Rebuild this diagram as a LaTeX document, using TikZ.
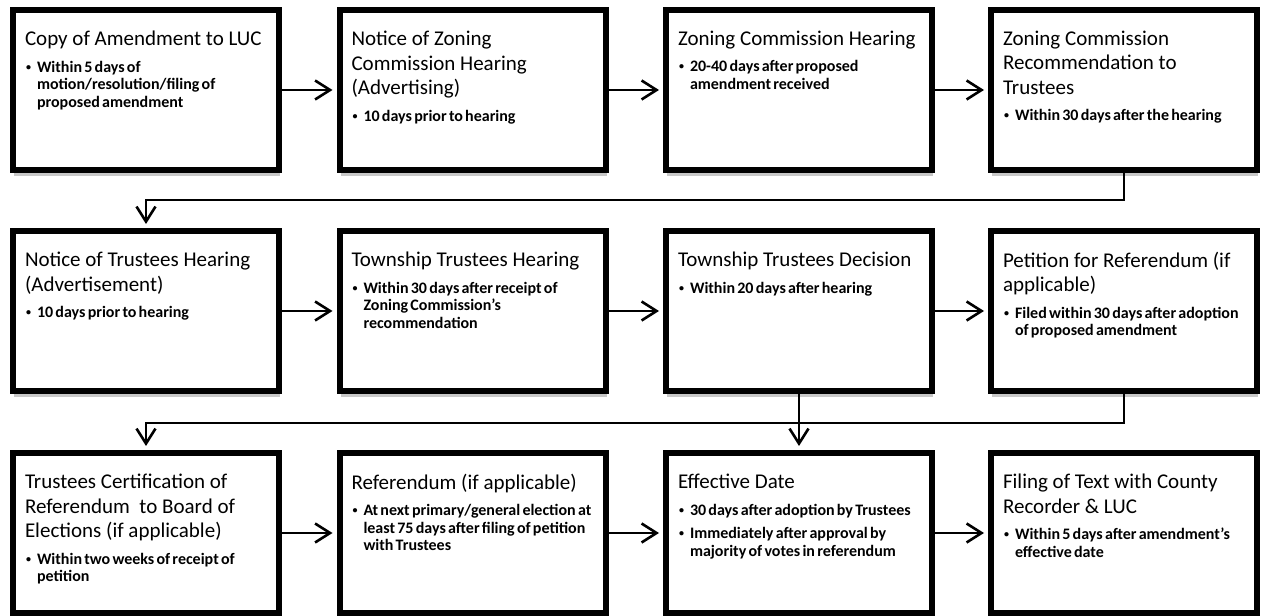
\documentclass[tikz,border=0pt]{standalone}
\usepackage{fontspec}
\setmainfont{Carlito}
\usetikzlibrary{arrows.meta,shadows}
\newcommand{\ttl}[1]{{\fontsize{21}{24.5}\selectfont #1\par}\vspace{9pt}}
\newcommand{\bul}[1]{{\fontsize{16}{17.5}\selectfont\bfseries\spaceskip=0.14em plus 0.05em\leftskip=12pt\noindent\hspace*{-12pt}\makebox[12pt][l]{\hspace{1pt}\raisebox{2pt}{\fontsize{10}{10}\selectfont\textbullet}}#1\par}}
\newcommand{\bgap}{\vspace{6pt}}
\newcommand{\cont}[1]{\parbox[t][118pt][t]{242pt}{\raggedright #1}}
\tikzset{
  x=1pt, y=1pt,
  stepbox/.style={draw=black, line width=6pt, fill=white, inner xsep=12pt, inner ysep=21pt,
    minimum width=266pt, minimum height=160pt,
    drop shadow={shadow xshift=1pt, shadow yshift=-6pt, opacity=0.3, fill=black!70}},
  conn/.style={draw=black, line width=2.6pt, -{Straight Barb[length=15pt,width=19pt]}, shorten >=4pt}
}
\begin{document}
\begin{tikzpicture}
\fill[white] (0,0) rectangle (1262,616);
\useasboundingbox (0,0) rectangle (1262,616);
% row 1
\node[stepbox] (b1) at (146,526) {\cont{\ttl{Copy of Amendment to LUC}\bul{Within 5 days of\\motion/resolution/filing of\\proposed amendment}}};
\node[stepbox] (b2) at (472.5,526) {\cont{\ttl{Notice of Zoning\\Commission Hearing\\(Advertising)}\bul{10 days prior to hearing}}};
\node[stepbox] (b3) at (799,526) {\cont{\ttl{Zoning Commission Hearing}\bul{20-40 days after proposed\\amendment received}}};
\node[stepbox] (b4) at (1124,526) {\cont{\ttl{Zoning Commission\\Recommendation to\\Trustees}\bul{Within 30 days after the hearing}}};
% row 2
\node[stepbox] (b5) at (146,305) {\cont{\ttl{Notice of Trustees Hearing\\(Advertisement)}\bul{10 days prior to hearing}}};
\node[stepbox] (b6) at (472.5,305) {\cont{\ttl{Township Trustees Hearing}\bul{Within 30 days after receipt of\\Zoning Commission’s\\recommendation}}};
\node[stepbox] (b7) at (799,305) {\cont{\ttl{Township Trustees Decision}\bul{Within 20 days after hearing}}};
\node[stepbox] (b8) at (1124,305) {\cont{\ttl{Petition for Referendum (if\\applicable)}\bul{Filed within 30 days after adoption\\of proposed amendment}}};
% row 3
\node[stepbox] (b9) at (146,83) {\cont{\ttl{Trustees Certification of\\Referendum \ to Board of\\Elections (if applicable)}\bul{Within two weeks of receipt of\\petition}}};
\node[stepbox] (b10) at (472.5,83) {\cont{\ttl{Referendum (if applicable)}\bul{At next primary/general election at\\least 75 days after filing of petition\\with Trustees}}};
\node[stepbox] (b11) at (799,83) {\cont{\ttl{Effective Date}\bul{30 days after adoption by Trustees}\bgap\bul{Immediately after approval by\\majority of votes in referendum}}};
\node[stepbox] (b12) at (1124,83) {\cont{\ttl{Filing of Text with County\\Recorder \& LUC}\bul{Within 5 days after amendment’s\\effective date}}};
% connectors
\draw[conn] (b1.east) -- (b2.west);
\draw[conn] (b2.east) -- (b3.west);
\draw[conn] (b3.east) -- (b4.west);
\draw[conn] (b4.south) -- ++(0,-27) -| (b5.north);
\draw[conn] (b5.east) -- (b6.west);
\draw[conn] (b6.east) -- (b7.west);
\draw[conn] (b7.east) -- (b8.west);
\draw[conn] (b8.south) -- ++(0,-29) -| (b9.north);
\draw[conn] (b7.south) -- (b11.north);
\draw[conn] (b9.east) -- (b10.west);
\draw[conn] (b10.east) -- (b11.west);
\draw[conn] (b11.east) -- (b12.west);
\end{tikzpicture}
\end{document}
